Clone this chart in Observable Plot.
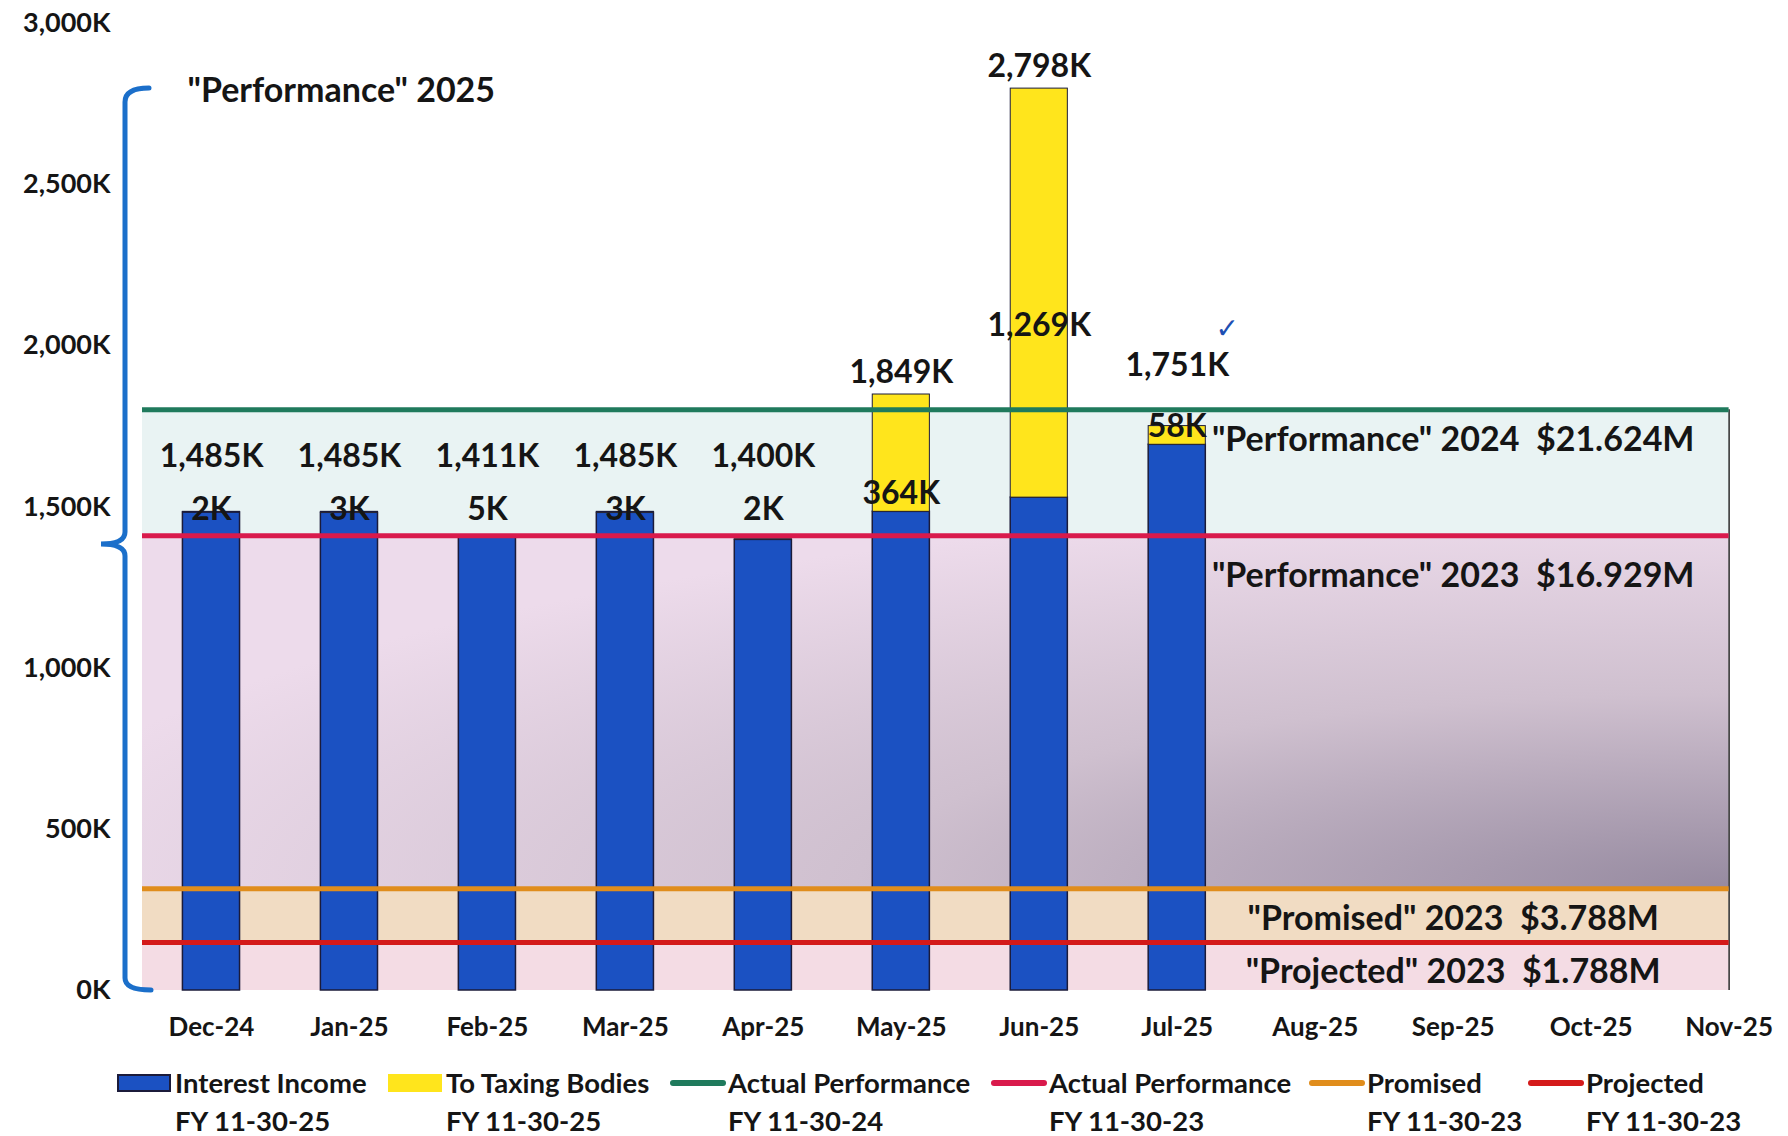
<!DOCTYPE html>
<html>
<head>
<meta charset="utf-8">
<script src="https://cdn.jsdelivr.net/npm/d3@7"></script>
<script src="https://cdn.jsdelivr.net/npm/@observablehq/plot@0.6"></script>
<style>
  html, body { margin: 0; padding: 0; background: #fff; }
  body { font-family: Lato, "Open Sans", sans-serif; color: #151515; }
  #chart { width: 1788px; }
  #legend { position: relative; width: 1788px; height: 76px; font-weight: 700; font-size: 27.5px; }
  .sw { position: absolute; box-sizing: border-box; }
  .lt { position: absolute; line-height: 1; white-space: nowrap; }
</style>
</head>
<body>
<div id="chart"></div>
<div id="legend"></div>
<script>
// ---- data (values in thousands of dollars) ----
const months = ["Dec-24","Jan-25","Feb-25","Mar-25","Apr-25","May-25","Jun-25","Jul-25","Aug-25","Sep-25","Oct-25","Nov-25"];
const totalValues = [1485, 1485, 1411, 1485, 1400, 1849, 2798, 1751];      // bar totals (labels above bars)
const taxingBodies = [2, 3, 5, 3, 2, 364, 1269, 58];                      // "To Taxing Bodies" segment
const yTicks = [0, 500, 1000, 1500, 2000, 2500, 3000];

// annual reference amounts ($M) -> monthly level in K
const refKeys = ["perf2024", "perf2023", "promised2023", "projected2023"];
const refAnnualM = [21.624, 16.929, 3.788, 1.788];
const refLabels = ['"Performance" 2024  $21.624M', '"Performance" 2023  $16.929M', '"Promised" 2023  $3.788M', '"Projected" 2023  $1.788M'];
const titleLabel = '"Performance" 2025';

const legendNames = ["Interest Income", "To Taxing Bodies", "Actual Performance", "Actual Performance", "Promised", "Projected"];
const legendSub = ["FY 11-30-25", "FY 11-30-25", "FY 11-30-24", "FY 11-30-23", "FY 11-30-23", "FY 11-30-23"];

// ---- styles ----
const C = {
  blue: "#1b51c2", yellow: "#ffe51c", barStroke: "#1b1b3a",
  perf2024: "#1f7a5c", perf2023: "#d91a4c", promised2023: "#e08d1c", projected2023: "#d41a1a",
  bandTop: "#e9f3f3", bandPeach: "#f1dcc3", bandPink: "#f4dce4", brace: "#1b6fca", text: "#151515"
};

// ---- derived tables ----
const bars = totalValues.map((t, i) => ({
  i, month: months[i], total: t, taxing: taxingBodies[i], interest: t - taxingBodies[i]
}));
const refs = refKeys.map((k, j) => ({key: k, value: refAnnualM[j] * 1000 / 12, label: refLabels[j], color: C[k]}));
const bandFills = [C.bandTop, "url(#purpleGrad)", C.bandPeach, C.bandPink];
const bands = refs.map((r, j) => ({hi: r.value, lo: j + 1 < refs.length ? refs[j + 1].value : 0, fill: bandFills[j]}));
const maxTotal = d3.max(totalValues);
const xStart = -0.5, xEnd = months.length - 1;
const hw = 0.207;
const fmtK = v => d3.format(",")(v) + "K";

// label placement rules
const tiny = d => d.taxing / d.total < 0.01;          // hardly any yellow: labels share one level
const tinyLevel = d3.max(bars.filter(tiny), d => d.total);
const share = d => d.taxing / d.total;
const totalLabelY = d => tiny(d) ? tinyLevel : d.total;
const totalLabelDy = d => tiny(d) ? -55 : share(d) > 0.15 ? -22 : -60;
const taxLabelY = d => tiny(d) ? tinyLevel : share(d) > 0.3 ? d.interest + d.taxing * 0.42 : d.interest;
const taxLabelDy = d => tiny(d) ? -2 : share(d) > 0.3 ? 0 : -18;
const groupsOf = (rows, f) => d3.groups(rows, f).map(([dy, g]) => ({dy, rows: g}));

const plot = Plot.plot({
  width: 1788,
  height: 1060,
  marginTop: 23,
  marginBottom: 70,
  marginLeft: 142,
  marginRight: 18,
  style: {fontFamily: "Lato, 'Open Sans', sans-serif", background: "white", color: C.text},
  x: {type: "linear", domain: [xStart, 11.3]},
  y: {domain: [0, 3000]},
  marks: [
    // background bands
    Plot.rect(bands, {x1: () => xStart, x2: () => xEnd, y1: "lo", y2: "hi", fill: d => d.fill}),
    Plot.ruleX([xEnd], {y1: 0, y2: refs[0].value, stroke: "#2a2a2a", strokeWidth: 1.5}),
    // bars
    Plot.rect(bars, {x1: d => d.i - hw, x2: d => d.i + hw, y1: 0, y2: "interest", fill: C.blue, stroke: C.barStroke, strokeWidth: 1.5}),
    Plot.rect(bars, {x1: d => d.i - hw, x2: d => d.i + hw, y1: "interest", y2: "total", fill: C.yellow, stroke: C.barStroke, strokeWidth: 1}),
    // reference lines
    Plot.ruleY(refs, {y: "value", x1: () => xStart, x2: () => xEnd, stroke: d => d.color, strokeWidth: 5}),
    // reference annotations
    ...groupsOf(refs, d => d.key === "perf2023" ? 40 : 30).map(g =>
      Plot.text(g.rows, {x: () => 9, y: "value", text: "label", dy: g.dy, fontSize: 34, fontWeight: 700, fill: C.text})),
    // value labels (totals)
    ...groupsOf(bars, totalLabelDy).map(g =>
      Plot.text(g.rows, {x: "i", y: totalLabelY, text: d => fmtK(d.total), dy: g.dy, fontSize: 32, fontWeight: 700, fill: C.text})),
    // value labels (to taxing bodies)
    ...groupsOf(bars, taxLabelDy).map(g =>
      Plot.text(g.rows, {x: "i", y: taxLabelY, text: d => fmtK(d.taxing), dy: g.dy, fontSize: 32, fontWeight: 700, fill: C.text})),
    // check mark on latest month
    Plot.text(bars.slice(-1), {x: "i", y: "total", text: () => "✓", dx: 50, dy: -97, fontSize: 28, fill: "#1d4fb3", fontFamily: "DejaVu Sans"}),
    // title label
    Plot.text([maxTotal], {x: () => xStart, y: d => d, text: () => titleLabel, textAnchor: "start", dx: 45, dy: 2, fontSize: 34, fontWeight: 700, fill: C.text}),
    // axes
    Plot.axisY({ticks: yTicks, tickFormat: fmtK, tickSize: 0, tickPadding: 32, fontSize: 27, fontWeight: 700, label: null}),
    Plot.axisX({ticks: d3.range(months.length), tickFormat: i => months[i], tickSize: 0, tickPadding: 27, fontSize: 26, fontWeight: 700, label: null})
  ]
});

// gradient definition for the 2023 performance band
const svgSel = d3.select(plot);
const defs = svgSel.insert("defs", ":first-child");
const grad = defs.append("radialGradient").attr("id", "purpleGrad").attr("cx", 1).attr("cy", 1).attr("r", 1.1).attr("fx", 1).attr("fy", 1);
grad.append("stop").attr("offset", 0).attr("stop-color", "#968aa0");
grad.append("stop").attr("offset", 0.5).attr("stop-color", "#cfc0cf");
grad.append("stop").attr("offset", 1).attr("stop-color", "#eddbeb");

// brace spanning 0 .. max total, drawn with the plot's scales
const xs = plot.scale("x"), ys = plot.scale("y");
const bx = xs.apply(xStart) - 17;
const yTop = ys.apply(maxTotal), yBot = ys.apply(0), yMid = (yTop + yBot) / 2 + 5;
const p = d3.path();
p.moveTo(bx + 24, yTop);
p.quadraticCurveTo(bx, yTop, bx, yTop + 14);
p.lineTo(bx, yMid - 12);
p.quadraticCurveTo(bx, yMid, bx - 24, yMid);
p.quadraticCurveTo(bx, yMid, bx, yMid + 12);
p.lineTo(bx, yBot - 12);
p.quadraticCurveTo(bx, yBot, bx + 26, yBot);
svgSel.append("path").attr("d", p.toString()).attr("fill", "none").attr("stroke", C.brace).attr("stroke-width", 5).attr("stroke-linecap", "round");

document.getElementById("chart").appendChild(plot);

// ---- legend ----
const legendKinds = [
  {type: "box", color: C.blue, border: true},
  {type: "box", color: C.yellow, border: false},
  {type: "line", color: C.perf2024},
  {type: "line", color: C.perf2023},
  {type: "line", color: C.promised2023},
  {type: "line", color: C.projected2023}
];
const legendX = [117, 388, 670, 991, 1309, 1528];
const leg = d3.select("#legend");
legendKinds.forEach((k, j) => {
  const x = legendX[j];
  if (k.type === "box") {
    leg.append("div").attr("class", "sw")
      .style("left", x + "px").style("top", "14px").style("width", "54px").style("height", "18px")
      .style("background", k.color).style("border", k.border ? "2px solid #1b1b3a" : "none");
  } else {
    leg.append("div").attr("class", "sw")
      .style("left", x + "px").style("top", "20px").style("width", "56px").style("height", "6px")
      .style("border-radius", "3px").style("background", k.color);
  }
  leg.append("div").attr("class", "lt").style("left", (x + 58) + "px").style("top", "9px").text(legendNames[j]);
  leg.append("div").attr("class", "lt").style("left", (x + 58) + "px").style("top", "47px").text(legendSub[j]);
});
</script>
</body>
</html>
